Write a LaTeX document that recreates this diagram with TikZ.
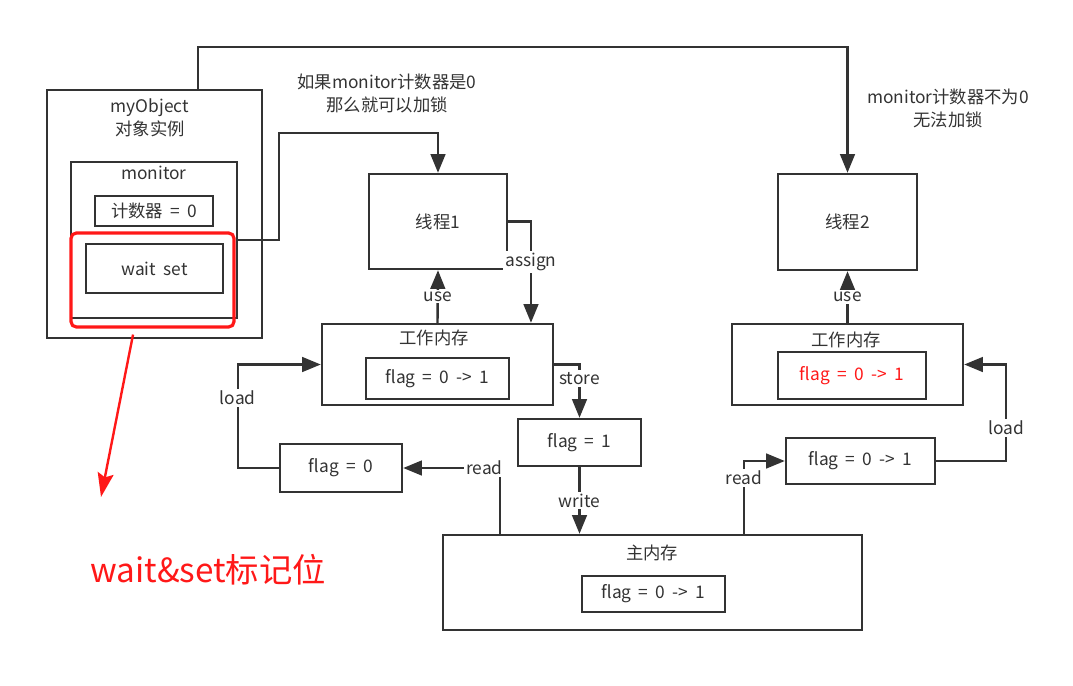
\documentclass[tikz,border=0pt]{standalone}
\usepackage{fontspec}
\setmainfont[WordSpace=1.9]{Noto Sans CJK SC}
\usepackage{xcolor}
\definecolor{lineg}{RGB}{51,51,51}
\definecolor{markred}{RGB}{255,24,24}
\usetikzlibrary{arrows.meta}

\begin{document}
\begin{tikzpicture}[
          x=0.75pt, y=-0.75pt,
          box/.style={
              draw=lineg,
              line width=1.8pt,
              inner sep=0pt,
              text=lineg,
              font=\fontsize{13}{17}\selectfont
            },
          txt/.style={text=lineg, font=\fontsize{13}{17}\selectfont, align=center},
          lbl/.style={txt, fill=white, inner sep=1.5pt},
          markbox/.style={draw=markred, line width=2.4pt, rounded corners=4pt},
          arr/.style={-{Triangle[length=14pt, width=11pt]}, draw=lineg, line width=1.8pt},
          redarr/.style={-{Stealth[length=18pt, width=12pt, inset=3pt]}, draw=markred, line width=1.8pt}
        ]
        \useasboundingbox (0,0) rectangle (1073,685);

        \node[box, minimum width=161.25pt, minimum height=186pt] (obj_box) at (154.5,214) {};
        \node[txt] (obj_title) at (150,118) {myObject\\对象实例};
        \node[box, minimum width=124.5pt, minimum height=117pt] (monitor_box) at (154,240) {};
        \node[txt] (monitor_title) at (154,173) {monitor};
        \node[box, minimum width=88.5pt, minimum height=22.5pt] (counter) at (154,211) {计数器 = 0};
        \node[box, minimum width=102.75pt, minimum height=36.75pt] (wait_set) at (154.5,268.5) {wait set};
        \node[markbox, minimum width=122.25pt, minimum height=70.5pt] (mark_box) at (152.5,280) {};
        \coordinate (mark_tip) at (101,497);
        \node[txt, text=markred, font=\fontsize{25}{29}\selectfont] (mark_note) at (208,570) {wait\&set标记位};

        \node[box, minimum width=103.5pt, minimum height=71.25pt] (thread1) at (438,221.5) {线程1};
        \node[txt] (lock_note) at (387,93.5) {如果monitor计数器是0\\那么就可以加锁};
        \node[box, minimum width=104.25pt, minimum height=72pt] (thread2) at (847.5,222) {线程2};
        \node[txt] (nolock_note) at (948,108.5) {monitor计数器不为0\\无法加锁};

        \node[box, minimum width=173.25pt, minimum height=60.75pt] (wm1) at (437.5,364.5) {};
        \node[txt] (wm1_title) at (434,338) {工作内存};
        \node[box, minimum width=107.25pt, minimum height=30.75pt] (wm1_flag) at (437.5,378.5) {flag = 0 -> 1};
        \node[box, minimum width=92.25pt, minimum height=35.25pt] (flag1) at (579.5,442.5) {flag = 1};
        \node[box, minimum width=91.5pt, minimum height=36pt] (flag0) at (341,468) {flag = 0};

        \node[box, minimum width=314.25pt, minimum height=71.25pt] (main_box) at (652.5,582.5) {};
        \node[txt] (main_title) at (652,553) {主内存};
        \node[box, minimum width=107.25pt, minimum height=27pt] (main_flag) at (653.5,594) {flag = 0 -> 1};

        \node[box, minimum width=173.25pt, minimum height=60.75pt] (wm2) at (847.5,364.5) {};
        \node[txt] (wm2_title) at (846,340) {工作内存};
        \node[box, minimum width=111pt, minimum height=35.25pt, text=markred] (wm2_flag) at (852,375.5) {flag = 0 -> 1};
        \node[box, minimum width=111.75pt, minimum height=34.5pt] (flag2) at (860.5,461) {flag = 0 -> 1};

        \draw[redarr] ([xshift=-14.6pt, yshift=-4.5pt]mark_box.south) -- (mark_tip);

        \draw[arr] ([xshift=32.6pt]obj_box.north) -- ++(0,-42) -| (thread2.north);
        \draw[arr] (monitor_box.east) -- ++(41,0) -- ++(0,-107) -| (thread1.north);
        \draw[arr] (thread1.east) -| node[lbl, pos=0.7] {assign} ([xshift=70.1pt]wm1.north);
        \draw[arr] (wm1.north) -- node[lbl] {use} (thread1.south);
        \draw[arr] (wm2.north) -- node[lbl] {use} (thread2.south);
        \draw[arr] (wm1.east) -| node[lbl, pos=0.63] {store} (flag1.north);
        \draw[arr] (flag1.south) -- node[lbl] {write} (flag1.south |- main_box.north);
        \draw[arr] ([xshift=-114.4pt]main_box.north) |- node[lbl, pos=0.58] {read} (flag0.east);
        \draw[arr] (flag0.west) -- ++(-41,0) |- node[lbl, pos=0.34] {load} (wm1.west);
        \draw[arr] ([xshift=68.6pt]main_box.north) |- node[lbl, pos=0.385] {read} (flag2.west);
        \draw[arr] (flag2.east) -- ++(70,0) |- node[lbl, pos=0.17] {load} (wm2.east);
      \end{tikzpicture}
\end{document}
